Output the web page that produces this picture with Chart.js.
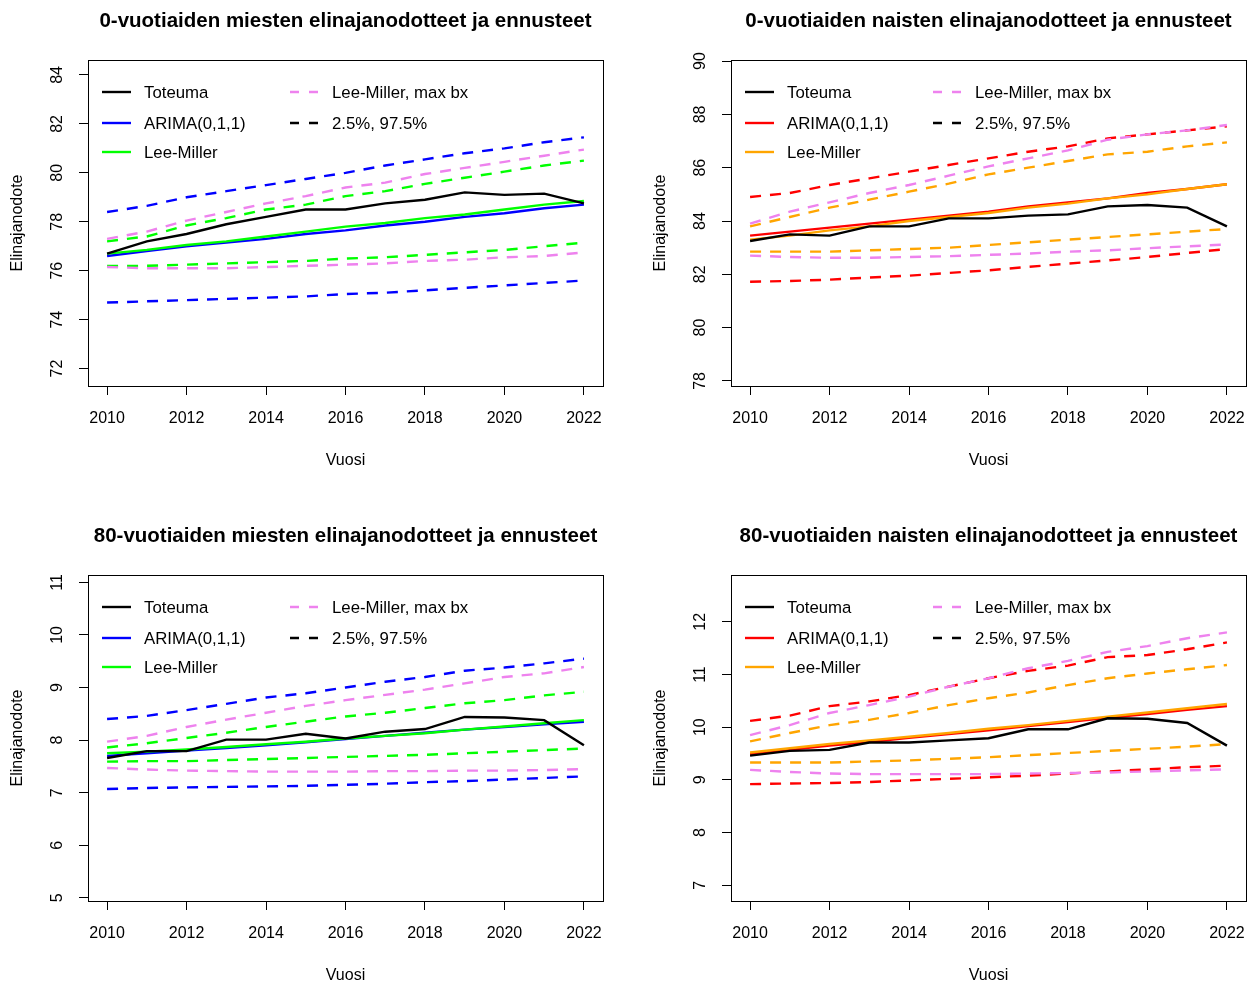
<!DOCTYPE html>
<html><head><meta charset="utf-8">
<script src="https://cdn.jsdelivr.net/npm/chart.js@4"></script>
<style>
html,body{margin:0;padding:0;background:#fff;overflow:hidden;width:1255px;height:986px;}
.p{position:absolute;width:612px;height:471px;}
canvas{display:block;}
</style></head><body>
<div class="p" style="left:0;top:0"><canvas id="c1" width="612" height="471"></canvas></div>
<div class="p" style="left:643px;top:0"><canvas id="c2" width="612" height="471"></canvas></div>
<div class="p" style="left:0;top:515px"><canvas id="c3" width="612" height="471"></canvas></div>
<div class="p" style="left:643px;top:515px"><canvas id="c4" width="612" height="471"></canvas></div>
<script>
// ---------- data ----------
const years = [2010,2011,2012,2013,2014,2015,2016,2017,2018,2019,2020,2021,2022];
const xTicks = [2010,2012,2014,2016,2018,2020,2022];
const xTitle = "Vuosi";
const yTitle = "Elinajanodote";
const legendLabels = ["Toteuma","ARIMA(0,1,1)","Lee-Miller","Lee-Miller, max bx","2.5%, 97.5%"];

// Panel 1: 0-vuotiaat miehet
const m0Title = "0-vuotiaiden miesten elinajanodotteet ja ennusteet";
const m0YTicks = [72,74,76,78,80,82,84];
const m0Toteuma = [76.7,77.2,77.5,77.9,78.2,78.5,78.5,78.75,78.9,79.2,79.1,79.15,78.75];
const m0Arima   = [76.6,76.8,77.0,77.15,77.3,77.5,77.65,77.85,78.0,78.2,78.35,78.55,78.7];
const m0LM      = [76.7,76.85,77.05,77.2,77.4,77.6,77.8,77.95,78.15,78.3,78.5,78.7,78.85];
const m0LMmaxHi = [77.3,77.6,78.05,78.4,78.75,79.05,79.4,79.6,79.95,80.2,80.45,80.7,80.95];
const m0LMmaxLo = [76.15,76.1,76.1,76.1,76.15,76.2,76.25,76.3,76.4,76.45,76.55,76.6,76.75];
const m0ArimaHi = [78.4,78.65,79.0,79.25,79.5,79.75,80.0,80.3,80.55,80.8,81.0,81.25,81.45];
const m0ArimaLo = [74.7,74.75,74.8,74.85,74.9,74.95,75.05,75.1,75.2,75.3,75.4,75.5,75.6];
const m0LMHi    = [77.2,77.4,77.85,78.15,78.5,78.7,79.05,79.25,79.55,79.8,80.05,80.3,80.5];
const m0LMLo    = [76.2,76.2,76.25,76.3,76.35,76.4,76.5,76.55,76.65,76.75,76.85,77.0,77.15];

// Panel 2: 0-vuotiaat naiset
const n0Title = "0-vuotiaiden naisten elinajanodotteet ja ennusteet";
const n0YTicks = [78,80,82,84,86,88,90];
const n0Toteuma = [83.25,83.5,83.45,83.8,83.8,84.1,84.1,84.2,84.25,84.55,84.6,84.5,83.8];
const n0Arima   = [83.45,83.6,83.75,83.9,84.05,84.2,84.35,84.55,84.7,84.85,85.05,85.2,85.38];
const n0LM      = [83.3,83.45,83.65,83.8,84.0,84.15,84.3,84.5,84.65,84.85,85.0,85.2,85.38];
const n0LMmaxHi = [83.9,84.35,84.7,85.05,85.35,85.7,86.05,86.35,86.65,87.05,87.25,87.4,87.6];
const n0LMmaxLo = [82.7,82.65,82.62,82.62,82.65,82.68,82.73,82.78,82.85,82.9,82.98,83.05,83.12];
const n0ArimaHi = [84.9,85.05,85.35,85.6,85.85,86.1,86.35,86.6,86.8,87.1,87.25,87.4,87.55];
const n0ArimaLo = [81.72,81.75,81.8,81.88,81.95,82.05,82.15,82.28,82.4,82.52,82.65,82.8,82.95];
const n0LMHi    = [83.8,84.15,84.5,84.8,85.1,85.4,85.75,86.0,86.25,86.5,86.6,86.8,86.95];
const n0LMLo    = [82.85,82.85,82.85,82.9,82.95,83.0,83.1,83.2,83.3,83.4,83.5,83.6,83.7];

// Panel 3: 80-vuotiaat miehet
const m80Title = "80-vuotiaiden miesten elinajanodotteet ja ennusteet";
const m80YTicks = [5,6,7,8,9,10,11];
const m80Toteuma = [7.66,7.79,7.79,8.01,8.01,8.12,8.03,8.16,8.21,8.44,8.43,8.38,7.9];
const m80Arima   = [7.7,7.75,7.8,7.85,7.9,7.96,8.02,8.08,8.14,8.2,8.25,8.3,8.35];
const m80LM      = [7.75,7.78,7.82,7.87,7.92,7.97,8.03,8.08,8.13,8.2,8.26,8.32,8.38];
const m80LMmaxHi = [7.97,8.08,8.25,8.39,8.52,8.65,8.76,8.86,8.96,9.08,9.2,9.27,9.39];
const m80LMmaxLo = [7.47,7.44,7.42,7.41,7.4,7.4,7.4,7.41,7.41,7.42,7.42,7.43,7.45];
const m80ArimaHi = [8.4,8.46,8.57,8.69,8.81,8.89,9.0,9.11,9.2,9.32,9.38,9.46,9.55];
const m80ArimaLo = [7.07,7.09,7.1,7.11,7.12,7.13,7.15,7.17,7.2,7.22,7.25,7.28,7.31];
const m80LMHi    = [7.86,7.94,8.04,8.14,8.25,8.35,8.45,8.52,8.61,8.7,8.76,8.85,8.92];
const m80LMLo    = [7.59,7.6,7.6,7.62,7.64,7.66,7.68,7.7,7.72,7.75,7.78,7.81,7.84];

// Panel 4: 80-vuotiaat naiset
const n80Title = "80-vuotiaiden naisten elinajanodotteet ja ennusteet";
const n80YTicks = [7,8,9,10,11,12];
const n80Toteuma = [9.46,9.55,9.57,9.71,9.71,9.75,9.79,9.96,9.96,10.17,10.16,10.08,9.65];
const n80Arima   = [9.49,9.57,9.65,9.72,9.8,9.87,9.94,10.02,10.1,10.18,10.25,10.33,10.4];
const n80LM      = [9.52,9.6,9.68,9.75,9.82,9.89,9.97,10.04,10.12,10.2,10.28,10.36,10.44];
const n80LMmaxHi = [9.85,10.04,10.27,10.42,10.58,10.77,10.93,11.12,11.26,11.43,11.54,11.69,11.8];
const n80LMmaxLo = [9.19,9.15,9.12,9.11,9.11,9.11,9.11,9.12,9.13,9.14,9.16,9.18,9.2];
const n80ArimaHi = [10.12,10.22,10.4,10.49,10.61,10.77,10.93,11.07,11.17,11.33,11.37,11.48,11.61];
const n80ArimaLo = [8.92,8.93,8.94,8.96,8.99,9.02,9.05,9.08,9.12,9.16,9.2,9.24,9.27];
const n80LMHi    = [9.73,9.89,10.04,10.14,10.27,10.42,10.55,10.66,10.8,10.93,11.02,11.1,11.18];
const n80LMLo    = [9.33,9.33,9.33,9.35,9.37,9.4,9.43,9.47,9.51,9.55,9.59,9.63,9.68];

// ---------- drawing ----------
const FONT = '"Liberation Sans", Arial, Helvetica, sans-serif';
const LW = 2.4;
const DASH = [11, 9];
const COL = {black:'#000000', blue:'#0000FF', green:'#00FF00', violet:'#EE82EE', red:'#FF0000', orange:'#FFA500'};
const LEGEND_ROWS = [32, 63, 92];

const rStyle = {
  id: 'rStyle',
  afterDraw(chart, args, o) {
    const {ctx, chartArea: a, scales: {x, y}} = chart;
    ctx.save();
    // box
    ctx.strokeStyle = '#000'; ctx.lineWidth = 1; ctx.setLineDash([]);
    ctx.strokeRect(Math.round(a.left) + 0.5, Math.round(a.top) + 0.5,
                   Math.round(a.right - a.left), Math.round(a.bottom - a.top));
    ctx.fillStyle = '#000';
    ctx.font = '16px ' + FONT;
    ctx.textAlign = 'center'; ctx.textBaseline = 'middle';
    // x tick labels
    x.ticks.forEach(t => ctx.fillText(String(t.value), x.getPixelForValue(t.value), a.bottom + 33));
    ctx.fillText(o.xTitle, (a.left + a.right) / 2, a.bottom + 75);
    // y tick labels (rotated)
    y.ticks.forEach(t => {
      ctx.save();
      ctx.translate(a.left - 30, y.getPixelForValue(t.value));
      ctx.rotate(-Math.PI / 2);
      ctx.fillText(String(t.value), 0, 0);
      ctx.restore();
    });
    ctx.save();
    ctx.translate(18, (a.top + a.bottom) / 2);
    ctx.rotate(-Math.PI / 2);
    ctx.fillText(o.yTitle, 0, 0);
    ctx.restore();
    // title
    ctx.font = 'bold 20.5px ' + FONT;
    ctx.fillText(o.title, (a.left + a.right) / 2, 21);
    // legend
    ctx.font = '16.8px ' + FONT;
    ctx.textAlign = 'left';
    o.legend.forEach(it => {
      const lx = a.left + (it.col === 0 ? 14 : 202);
      const ly = a.top + LEGEND_ROWS[it.row];
      ctx.strokeStyle = it.color; ctx.lineWidth = LW;
      ctx.setLineDash(it.dash ? [9, 10] : []);
      ctx.beginPath(); ctx.moveTo(lx, ly); ctx.lineTo(lx + 29, ly); ctx.stroke();
      ctx.setLineDash([]);
      ctx.fillStyle = '#000';
      ctx.fillText(it.label, lx + 42, ly + 1);
    });
    ctx.restore();
  }
};

function ds(vals, color, dashed) {
  return {
    data: vals.map((v, i) => ({x: years[i], y: v})),
    borderColor: color, backgroundColor: color,
    borderWidth: LW, borderDash: dashed ? DASH : [],
    pointRadius: 0, tension: 0, fill: false
  };
}

function makeChart(id, title, yMin, yMax, yTicks, arimaCol, lmCol, s) {
  const datasets = [
    ds(s.tot, COL.black, false),
    ds(s.lm, lmCol, false),
    ds(s.arima, arimaCol, false),
    ds(s.lmMaxHi, COL.violet, true),
    ds(s.lmMaxLo, COL.violet, true),
    ds(s.lmHi, lmCol, true),
    ds(s.lmLo, lmCol, true),
    ds(s.arHi, arimaCol, true),
    ds(s.arLo, arimaCol, true)
  ];
  const legend = [
    {label: legendLabels[0], color: COL.black, dash: false, col: 0, row: 0},
    {label: legendLabels[1], color: arimaCol, dash: false, col: 0, row: 1},
    {label: legendLabels[2], color: lmCol, dash: false, col: 0, row: 2},
    {label: legendLabels[3], color: COL.violet, dash: true, col: 1, row: 0},
    {label: legendLabels[4], color: COL.black, dash: true, col: 1, row: 1}
  ];
  const axisGrid = {drawOnChartArea: false, drawTicks: true, tickLength: 9, color: '#000', lineWidth: 1};
  return new Chart(document.getElementById(id), {
    type: 'line',
    data: {datasets},
    options: {
      responsive: false, animation: false, devicePixelRatio: 1,
      layout: {padding: {left: 79, top: 60, right: 9, bottom: 76}},
      scales: {
        x: {type: 'linear', min: 2009.52, max: 2022.48,
            afterBuildTicks: sc => { sc.ticks = xTicks.map(v => ({value: v})); },
            ticks: {display: false}, grid: axisGrid, border: {display: false}},
        y: {type: 'linear', min: yMin, max: yMax,
            afterBuildTicks: sc => { sc.ticks = yTicks.map(v => ({value: v})); },
            ticks: {display: false}, grid: axisGrid, border: {display: false}}
      },
      plugins: {
        legend: {display: false}, tooltip: {enabled: false},
        rStyle: {title, xTitle, yTitle, legend}
      }
    },
    plugins: [rStyle]
  });
}

makeChart('c1', m0Title, 71.29, 84.61, m0YTicks, COL.blue, COL.green,
  {tot: m0Toteuma, arima: m0Arima, lm: m0LM, lmMaxHi: m0LMmaxHi, lmMaxLo: m0LMmaxLo,
   arHi: m0ArimaHi, arLo: m0ArimaLo, lmHi: m0LMHi, lmLo: m0LMLo});
makeChart('c2', n0Title, 77.81, 90.04, n0YTicks, COL.red, COL.orange,
  {tot: n0Toteuma, arima: n0Arima, lm: n0LM, lmMaxHi: n0LMmaxHi, lmMaxLo: n0LMmaxLo,
   arHi: n0ArimaHi, arLo: n0ArimaLo, lmHi: n0LMHi, lmLo: n0LMLo});
makeChart('c3', m80Title, 4.94, 11.14, m80YTicks, COL.blue, COL.green,
  {tot: m80Toteuma, arima: m80Arima, lm: m80LM, lmMaxHi: m80LMmaxHi, lmMaxLo: m80LMmaxLo,
   arHi: m80ArimaHi, arLo: m80ArimaLo, lmHi: m80LMHi, lmLo: m80LMLo});
makeChart('c4', n80Title, 6.70, 12.89, n80YTicks, COL.red, COL.orange,
  {tot: n80Toteuma, arima: n80Arima, lm: n80LM, lmMaxHi: n80LMmaxHi, lmMaxLo: n80LMmaxLo,
   arHi: n80ArimaHi, arLo: n80ArimaLo, lmHi: n80LMHi, lmLo: n80LMLo});
</script>
</body></html>
